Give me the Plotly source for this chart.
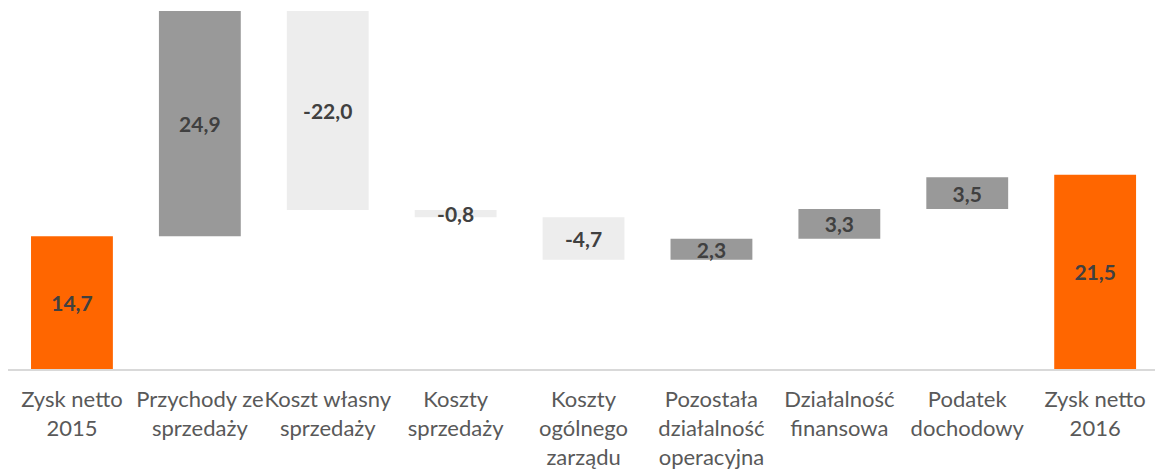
import plotly.graph_objects as go

categories = [
    "Zysk netto<br>2015",
    "Przychody ze<br>sprzedaży",
    "Koszt własny<br>sprzedaży",
    "Koszty<br>sprzedaży",
    "Koszty<br>ogólnego<br>zarządu",
    "Pozostała<br>działalność<br>operacyjna",
    "Działalność<br>finansowa",
    "Podatek<br>dochodowy",
    "Zysk netto<br>2016",
]
values = [14.7, 24.9, -22.0, -0.8, -4.7, 2.3, 3.3, 3.5, 21.5]
measures = ["absolute", "relative", "relative", "relative", "relative",
            "relative", "relative", "relative", "absolute"]
labels = [f"{v:.1f}".replace(".", ",") for v in values]

fig = go.Figure(go.Waterfall(
    x=categories,
    y=values,
    measure=measures,
    text=labels,
    textposition="inside",
    insidetextanchor="middle",
    textfont=dict(family="Lato", size=21, color="#404040", weight="bold"),
    insidetextfont=dict(family="Lato", size=21, color="#404040", weight="bold"),
    constraintext="none",
    increasing=dict(marker=dict(color="#999999")),
    decreasing=dict(marker=dict(color="#EDEDED")),
    totals=dict(marker=dict(color="#FF6600")),
    connector=dict(visible=False),
    width=0.64,
    hoverinfo="skip",
))

fig.update_layout(
    width=1155,
    height=473,
    margin=dict(l=8, r=0, t=5, b=104, autoexpand=False),
    paper_bgcolor="white",
    plot_bgcolor="white",
    showlegend=False,
    uniformtext=dict(minsize=21, mode="show"),
    font=dict(family="Lato", size=22, color="#595959"),
    xaxis=dict(
        range=[-0.5, 8.468],
        showline=True,
        linecolor="#D9D9D9",
        linewidth=2,
        showgrid=False,
        zeroline=False,
        ticks="outside",
        ticklen=10,
        tickcolor="rgba(0,0,0,0)",
        tickangle=0,
        automargin=False,
        tickfont=dict(family="Lato", size=22, color="#595959"),
        fixedrange=True,
    ),
    yaxis=dict(
        range=[0, 40.27],
        visible=False,
        fixedrange=True,
    ),
)

fig.write_html(
    "out.html",
    config={"displayModeBar": False},
    post_script="document.body.style.margin='0';document.body.style.overflow='hidden';",
)
